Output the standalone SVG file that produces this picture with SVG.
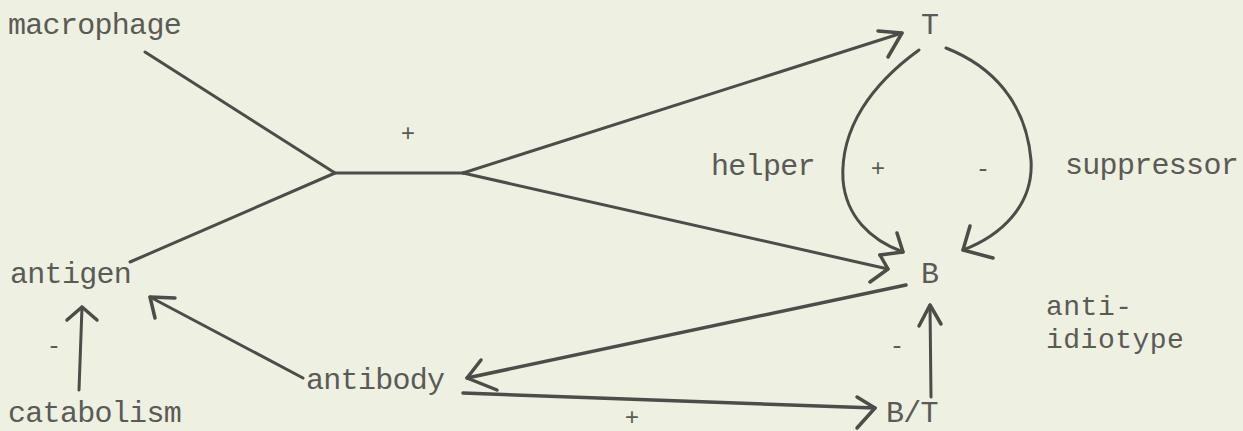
<svg xmlns="http://www.w3.org/2000/svg" width="1243" height="431" viewBox="0 0 1243 431">
<style>
.t{font-family:"Liberation Mono","Courier New",monospace;font-size:30px;letter-spacing:-0.7px;fill:#5a5a56}
.a{font-family:"Liberation Mono","Courier New",monospace;font-size:28px;letter-spacing:0.5px;fill:#5a5a56}
.s{font-family:"Liberation Mono","Courier New",monospace;font-size:24px;fill:#5a5a56}
.c{fill:none;stroke:#4c4c49;stroke-width:3;stroke-linecap:round;stroke-linejoin:round}
.h{fill:none;stroke:#4c4c49;stroke-width:3.5;stroke-linecap:round;stroke-linejoin:round}
</style>
<rect width="1243" height="431" fill="#eef0e1"/>
<g id="connectors">
  <polyline class="c" points="145,52 335,173 463,173"/>
  <line class="c" x1="130" y1="262" x2="335" y2="173"/>
  <line class="c" x1="463" y1="173" x2="902" y2="33"/>
  <polyline class="h" points="878,31 902,33 888,57"/>
  <line class="c" x1="463" y1="173" x2="888" y2="269"/>
  <polyline class="h" points="880,255 888,269 870,282"/>
  <path class="c" d="M919,50 C872,84 840,128 843,180 C846,216 870,240 903,252"/>
  <polyline class="h" points="897,233 903,252 880,255"/>
  <path class="c" d="M946,48 C992,66 1026,102 1031,160 C1034,206 1000,236 963,250"/>
  <polyline class="h" points="970,226 963,250 993,258"/>
  <line class="h" x1="906" y1="285" x2="467" y2="378"/>
  <polyline class="h" points="481,360 467,378 497,390"/>
  <line class="c" x1="303" y1="378" x2="150" y2="297"/>
  <polyline class="h" points="175,298 150,297 155,318"/>
  <line class="h" x1="463" y1="393" x2="875" y2="408"/>
  <polyline class="h" points="857,397 875,408 857,428"/>
  <line class="c" x1="931" y1="397" x2="930" y2="305"/>
  <polyline class="h" points="919,326 930,305 941,324"/>
  <line class="c" x1="79" y1="390" x2="82" y2="307"/>
  <polyline class="h" points="67,320 82,307 97,320"/>
</g>
<g id="node-macrophage"><text class="t" x="8" y="34">macrophage</text></g>
<g id="node-antigen"><text class="t" x="10" y="283">antigen</text></g>
<g id="node-catabolism"><text class="t" x="8" y="422">catabolism</text></g>
<g id="node-antibody"><text class="t" x="306" y="389">antibody</text></g>
<g id="node-T"><text class="t" x="921" y="34">T</text></g>
<g id="node-B"><text class="t" x="921" y="283">B</text></g>
<g id="node-BT"><text class="t" x="886" y="422">B/T</text></g>
<g id="labels">
  <text class="t" x="711" y="175">helper</text>
  <text class="t" x="1065" y="174">suppressor</text>
  <text class="a" x="1046" y="315">anti-</text>
  <text class="a" x="1046" y="348">idiotype</text>
  <text class="s" x="408" y="141" text-anchor="middle">+</text>
  <text class="s" x="878" y="176" text-anchor="middle">+</text>
  <text class="s" x="983" y="176" text-anchor="middle">-</text>
  <text class="s" x="897" y="353" text-anchor="middle">-</text>
  <text class="s" x="54" y="353" text-anchor="middle">-</text>
  <text class="s" x="632" y="425" text-anchor="middle">+</text>
</g>
</svg>
